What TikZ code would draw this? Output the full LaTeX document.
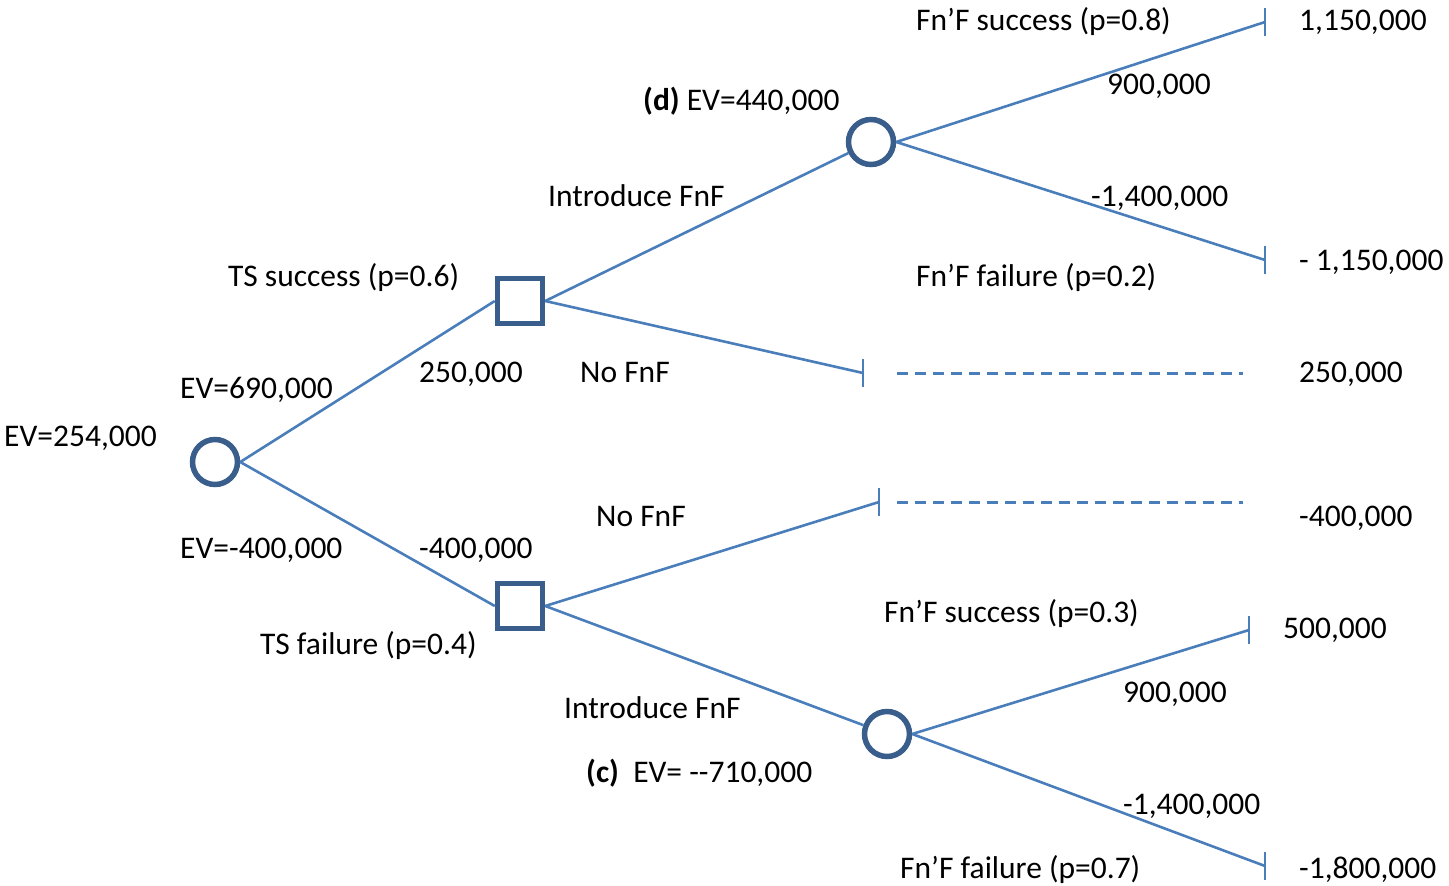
\documentclass[tikz,border=0pt]{standalone}
\usepackage{fontspec}
\setmainfont{Carlito}
\begin{document}
\begin{tikzpicture}[x=1pt,y=-1pt,
  every node/.style={font=\fontsize{31.5}{36}\selectfont},
  chance/.style={circle,draw=boxblue,line width=5.5pt,minimum size=45pt,inner sep=0pt,fill=white},
  decision/.style={rectangle,draw=boxblue,line width=5.5pt,minimum size=45pt,inner sep=0pt,fill=white},
  branch/.style={draw=lineblue,line width=2.6pt},
  dashline/.style={draw=lineblue,line width=3pt,dash pattern=on 11pt off 7pt},
  lbl/.style={anchor=base west,inner sep=0pt,text=black}]
\definecolor{boxblue}{HTML}{3A5E8C}
\definecolor{lineblue}{HTML}{4A7EBB}
\useasboundingbox (0,0) rectangle (1449,886);
% ends
\coordinate (e1) at (1265,22);
\coordinate (e2) at (1265,260);
\coordinate (e3) at (863,373);
\coordinate (e4) at (879,502);
\coordinate (e5) at (1249,630);
\coordinate (e6) at (1265,866);
\coordinate (da) at (897,373);
\coordinate (db) at (1243,373);
\coordinate (dc) at (897,502);
\coordinate (dd) at (1243,502);
% nodes
\node[chance] (r) at (215,462) {};
\node[decision] (s1) at (520,301) {};
\node[decision] (s2) at (520,606) {};
\node[chance] (d) at (871,142) {};
\node[chance] (c) at (887,734) {};
% connectors
\draw[branch] (r.east) -- (s1.west);
\draw[branch] (r.east) -- (s2.west);
\draw[branch] (s1.east) -- (d);
\draw[branch] (s1.east) -- (e3);
\draw[branch] (s2.east) -- (e4);
\draw[branch] (s2.east) -- (c);
\draw[branch] (d.east) -- (e1);
\draw[branch] (d.east) -- (e2);
\draw[branch] (c.east) -- (e5);
\draw[branch] (c.east) -- (e6);
\foreach \e in {e1,e2,e3,e4,e5,e6}{\draw[branch] (\e) ++(0,-14) -- ++(0,28);}
\draw[dashline] (da) -- (db);
\draw[dashline] (dc) -- (dd);
% labels
\node[lbl] (t1) at (916,30) {Fn’F success (p=0.8)};
\node[lbl] (t2) at (1299,30) {1,150,000};
\node[lbl] (t3) at (1107,94) {900,000};
\node[lbl] (t4) at (643,110) {\textbf{(d)} EV=440,000};
\node[lbl] (t5) at (548,206) {Introduce FnF};
\node[lbl] (t6) at (1091,206) {-1,400,000};
\node[lbl] (t7) at (228,286) {TS success (p=0.6)};
\node[lbl] (t8) at (916,286) {Fn’F failure (p=0.2)};
\node[lbl] (t9) at (1299,270) {- 1,150,000};
\node[lbl] (t10) at (419,382) {250,000};
\node[lbl] (t11) at (580,382) {No FnF};
\node[lbl] (t12) at (1299,382) {250,000};
\node[lbl] (t13) at (180,398) {EV=690,000};
\node[lbl] (t14) at (4,446) {EV=254,000};
\node[lbl] (t15) at (596,526) {No FnF};
\node[lbl] (t16) at (1299,526) {-400,000};
\node[lbl] (t17) at (180,558) {EV=-400,000};
\node[lbl] (t18) at (419,558) {-400,000};
\node[lbl] (t19) at (884,622) {Fn’F success (p=0.3)};
\node[lbl] (t20) at (1283,638) {500,000};
\node[lbl] (t21) at (260,654) {TS failure (p=0.4)};
\node[lbl] (t22) at (1123,702) {900,000};
\node[lbl] (t23) at (564,718) {Introduce FnF};
\node[lbl] (t24) at (586,782) {\textbf{(c)}\ \ EV= {-}{-}710,000};
\node[lbl] (t25) at (1123,814) {-1,400,000};
\node[lbl] (t26) at (900,878) {Fn’F failure (p=0.7)};
\node[lbl] (t27) at (1299,878) {-1,800,000};
\end{tikzpicture}
\end{document}
